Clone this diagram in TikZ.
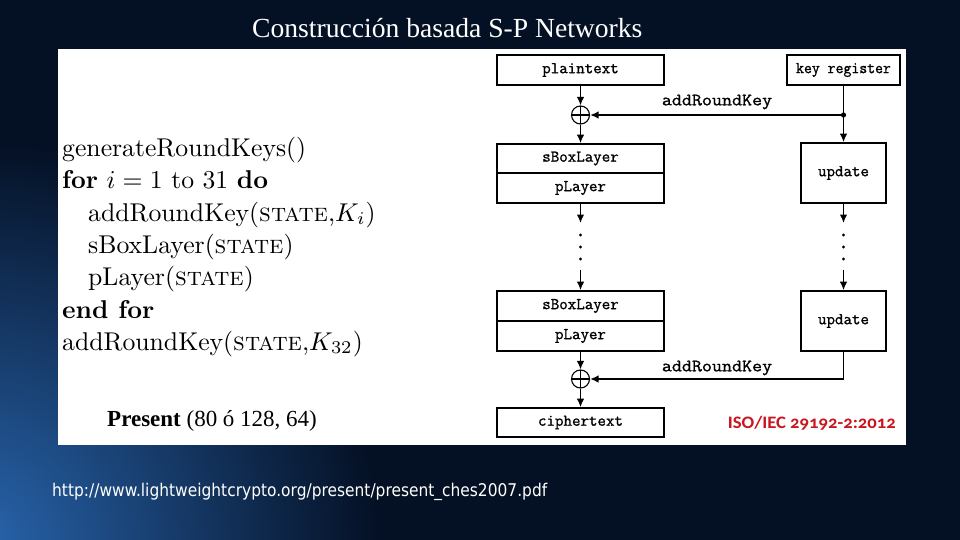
\documentclass[tikz,border=0pt]{standalone}
\usepackage{fontspec}
\usepackage{graphicx}
\usetikzlibrary{arrows.meta}
\newfontfamily\titlefont{Liberation Serif}
\newfontfamily\urlfont{DejaVu Sans}
\newfontfamily\isofont[Numbers=OldStyle]{Carlito}
\newfontfamily\boxfont{Latin Modern Mono}[FakeBold=1.1]
\definecolor{bgnavy}{RGB}{4,16,36}
\definecolor{bgblue}{RGB}{40,100,172}
\definecolor{isored}{RGB}{200,22,30}
\tikzset{
  blk/.style={draw, line width=1.6pt, fill=white, inner sep=0pt, font=\boxfont\fontsize{16.5}{18}\selectfont},
  xorc/.style={draw, circle, line width=1.1pt, minimum size=18pt, inner sep=0pt,
    path picture={\draw[line width=1.1pt] (path picture bounding box.north) -- (path picture bounding box.south)
      (path picture bounding box.west) -- (path picture bounding box.east);}},
  arr/.style={line width=1.5pt, -{Latex[length=8.5pt,width=7.5pt]}},
  lbl/.style={inner sep=0pt, font=\boxfont\fontsize{16.5}{18}\selectfont},
  alg/.style={inner sep=0pt, anchor=base west},
  vdot/.style={fill=black, circle, inner sep=0pt, minimum size=3.4pt},
}
\newcommand\algl[1]{\scalebox{2.57}{#1}}
\begin{document}
\begin{tikzpicture}[x=1pt,y=-1pt]
\useasboundingbox (0,0) rectangle (960,540);
\fill[bgnavy] (0,0) rectangle (960,540);
\begin{scope}
\clip (0,0) rectangle (960,540);
\shade[inner color=bgblue, outer color=bgnavy] (-20,540) circle (400);
\end{scope}
% white panel
\fill[white] (58,49) rectangle (906,445);
% title
\node[alg, text=white] (title) at (252,38) {\titlefont\fontsize{27.6}{30}\selectfont Construcción basada S-P Networks};
% algorithm
\node[alg] (l1) at (62,157) {\algl{generateRoundKeys()}};
\node[alg] (l2) at (62,189) {\algl{\textbf{for} $i = 1$ to 31 \textbf{do}}};
\node[alg] (l3) at (88,221) {\algl{addRoundKey(\textsc{state},$K_i$)}};
\node[alg] (l4) at (88,253) {\algl{sBoxLayer(\textsc{state})}};
\node[alg] (l5) at (88,285) {\algl{pLayer(\textsc{state})}};
\node[alg] (l6) at (62,318) {\algl{\textbf{end for}}};
\node[alg] (l7) at (62,350) {\algl{addRoundKey(\textsc{state},$K_{32}$)}};
% present
\node[alg] (pres) at (107,426) {\titlefont\fontsize{23}{26}\selectfont\textbf{Present} (80 ó 128, 64)};
% boxes
\node[blk, minimum width=167pt, minimum height=30pt] (pt) at (580.5,70) {plaintext};
\node[blk, minimum width=113pt, minimum height=30pt] (kr) at (843.5,70) {\scalebox{0.93}[1]{key register}};
\node[blk, minimum width=167pt, minimum height=29pt] (sb1) at (580.5,158.5) {sBoxLayer};
\node[blk, minimum width=167pt, minimum height=30pt] (pl1) at (580.5,188) {pLayer};
\node[blk, minimum width=85pt, minimum height=60pt] (up1) at (843.5,173) {update};
\node[blk, minimum width=167pt, minimum height=30pt] (sb2) at (580.5,306) {sBoxLayer};
\node[blk, minimum width=167pt, minimum height=30pt] (pl2) at (580.5,336) {pLayer};
\node[blk, minimum width=85pt, minimum height=60pt] (up2) at (843.5,321) {update};
\node[blk, minimum width=167pt, minimum height=29pt] (ct) at (580.5,422.5) {ciphertext};
\node[xorc] (x1) at (580.5,115) {};
\node[xorc] (x2) at (580.5,379) {};
% labels
\node[lbl] (lab1) at (717,102) {\scalebox{1.18}[1.05]{addRoundKey}};
\node[lbl] (lab2) at (717,368) {\scalebox{1.18}[1.05]{addRoundKey}};
% connectors top
\coordinate (d1) at (843.5,115);
\draw[arr] (pt) -- (x1);
\draw[arr] (x1) -- (sb1);
\draw[arr] (kr) -- (up1);
\draw[arr] (d1) -- (x1);
\fill (d1) circle (2.6pt);
% middle dotted section
\coordinate (a1) at (580.5,223);
\coordinate (a2) at (580.5,270);
\coordinate (b1) at (843.5,223);
\coordinate (b2) at (843.5,270);
\draw[arr] (pl1) -- (a1);
\draw[arr] (a2) -- (sb2);
\draw[arr] (up1) -- (b1);
\draw[arr] (b2) -- (up2);
\foreach \yy/\nm in {235/p, 247/q, 259/r}{
  \node[vdot] (\nm l) at (580.5,\yy) {};
  \node[vdot] (\nm r) at (843.5,\yy) {};
}
% bottom
\coordinate (c2) at (843.5,379);
\draw[arr] (pl2) -- (x2);
\draw[arr] (up2.south) -- (c2) -- (x2);
\draw[arr] (x2) -- (ct);
% ISO
\node[inner sep=0pt, anchor=base east, text=isored] (iso) at (896,428) {\resizebox{168pt}{\height}{\isofont\bfseries\fontsize{17.5}{18}\selectfont ISO/IEC 29192-2:2012}};
% url
\node[alg, text=white] (url) at (52,496) {\resizebox{495pt}{\height}{\urlfont\fontsize{17.5}{20}\selectfont http://www.lightweightcrypto.org/present/present\_ches2007.pdf}};
\end{tikzpicture}
\end{document}
